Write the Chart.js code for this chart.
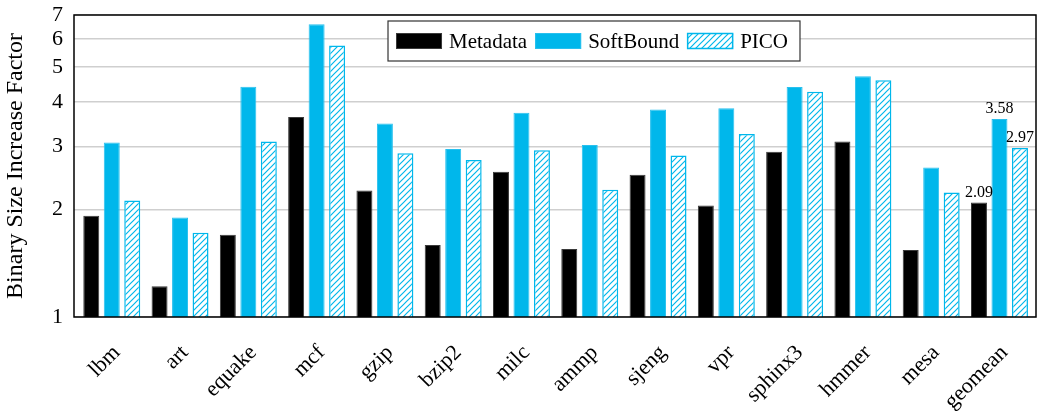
<!DOCTYPE html>
<html>
<head>
<meta charset="utf-8">
<script src="https://cdn.jsdelivr.net/npm/chart.js@4/dist/chart.umd.min.js"></script>
<style>
  html, body { margin: 0; padding: 0; background: #ffffff; }
  #wrap { width: 1037px; height: 416px; }
</style>
</head>
<body>
<div id="wrap"><canvas id="chart" width="1037" height="416"></canvas></div>
<script>
// Benchmarks on the x axis
const categories = ['lbm', 'art', 'equake', 'mcf', 'gzip', 'bzip2', 'milc', 'ammp',
                    'sjeng', 'vpr', 'sphinx3', 'hmmer', 'mesa', 'geomean'];

// Binary size increase factor per benchmark
const metadata  = [1.92, 1.22, 1.70, 3.63, 2.26, 1.59, 2.55, 1.55, 2.50, 2.05, 2.90, 3.10, 1.54, 2.09];
const softBound = [3.08, 1.90, 4.41, 6.60, 3.48, 2.95, 3.73, 3.03, 3.81, 3.84, 4.40, 4.72, 2.62, 3.58];
const pico      = [2.12, 1.72, 3.10, 5.75, 2.87, 2.75, 2.93, 2.27, 2.83, 3.25, 4.27, 4.60, 2.23, 2.97];

// Y axis tick values (log scale)
const yTicks = [1, 2, 3, 4, 5, 6, 7];

// Categories whose bars carry a value label
const labelledCategories = ['geomean'];

const FONT = "'Liberation Serif', 'DejaVu Serif', serif";
const CYAN = '#00b7eb';

// Diagonal hatch used for the PICO bars
function makeHatch(color) {
  const size = 6;
  const c = document.createElement('canvas');
  c.width = size; c.height = size;
  const g = c.getContext('2d');
  g.fillStyle = '#ffffff';
  g.fillRect(0, 0, size, size);
  g.strokeStyle = color;
  g.lineWidth = 1.2;
  g.beginPath();
  g.moveTo(-1, size + 1); g.lineTo(size + 1, -1);
  g.moveTo(-1, 1); g.lineTo(1, -1);
  g.moveTo(size - 1, size + 1); g.lineTo(size + 1, size - 1);
  g.stroke();
  return g.createPattern(c, 'repeat');
}
const hatch = makeHatch(CYAN);

const toPoints = vals => vals.map((v, i) => ({ x: i, y: v }));

// Frame around the plot area
const framePlugin = {
  id: 'frame',
  afterDatasetsDraw(chart) {
    const { ctx, chartArea: a } = chart;
    ctx.save();
    ctx.strokeStyle = '#000000';
    ctx.lineWidth = 1.5;
    ctx.strokeRect(a.left, a.top, a.right - a.left, a.bottom - a.top);
    ctx.restore();
  }
};

// Value labels above selected bars
const valueLabelPlugin = {
  id: 'valueLabels',
  afterDatasetsDraw(chart) {
    const { ctx } = chart;
    ctx.save();
    ctx.font = '16px ' + FONT;
    ctx.fillStyle = '#000000';
    ctx.textAlign = 'center';
    ctx.textBaseline = 'middle';
    chart.data.datasets.forEach((ds, di) => {
      const meta = chart.getDatasetMeta(di);
      ds.data.forEach((pt, i) => {
        if (!labelledCategories.includes(categories[i])) return;
        const el = meta.data[i];
        ctx.fillText(pt.y.toFixed(2), el.x, el.y - 10);
      });
    });
    ctx.restore();
  }
};

// Boxed legend inside the plot
const boxLegendPlugin = {
  id: 'boxLegend',
  afterDraw(chart) {
    const { ctx, chartArea: a } = chart;
    const sw = 46, sh = 16, gapText = 7, gapItem = 8, padL = 8, padR = 12;
    ctx.save();
    ctx.font = '21px ' + FONT;
    const items = chart.data.datasets.map(ds => ({ ds, w: ctx.measureText(ds.label).width }));
    let total = padL + padR;
    items.forEach((it, k) => { total += sw + gapText + it.w + (k < items.length - 1 ? gapItem : 0); });
    const cx = 594, top = a.top + 6, h = 40;
    const left = cx - total / 2;
    ctx.fillStyle = '#ffffff';
    ctx.fillRect(left, top, total, h);
    ctx.strokeStyle = '#333333';
    ctx.lineWidth = 1.2;
    ctx.strokeRect(left, top, total, h);
    let x = left + padL;
    const midY = top + h / 2;
    items.forEach((it, k) => {
      const ds = it.ds;
      ctx.fillStyle = ds.backgroundColor;
      ctx.fillRect(x, midY - sh / 2, sw, sh);
      ctx.strokeStyle = ds.borderColor;
      ctx.lineWidth = ds.borderWidth || 1;
      ctx.strokeRect(x + 0.5, midY - sh / 2 + 0.5, sw - 1, sh - 1);
      x += sw + gapText;
      ctx.fillStyle = '#000000';
      ctx.textAlign = 'left';
      ctx.textBaseline = 'middle';
      ctx.fillText(ds.label, x, midY + 1);
      x += it.w + gapItem;
    });
    ctx.restore();
  }
};

new Chart(document.getElementById('chart'), {
  type: 'bar',
  data: {
    datasets: [
      { label: 'Metadata', data: toPoints(metadata), backgroundColor: '#000000',
        borderColor: '#3a3a3a', borderWidth: 1 },
      { label: 'SoftBound', data: toPoints(softBound), backgroundColor: CYAN,
        borderColor: '#28c0ee', borderWidth: 1 },
      { label: 'PICO', data: toPoints(pico), backgroundColor: hatch,
        borderColor: CYAN, borderWidth: 1.5 }
    ]
  },
  options: {
    responsive: false,
    animation: false,
    devicePixelRatio: 1,
    layout: { padding: { top: 15, right: 1, left: 0, bottom: 0 } },
    datasets: { bar: { categoryPercentage: 0.9, barPercentage: 0.78 } },
    plugins: { legend: { display: false }, tooltip: { enabled: false } },
    scales: {
      x: {
        type: 'linear',
        offset: false,
        min: -0.553,
        max: 13.535,
        grid: { display: false },
        border: { display: false },
        afterBuildTicks(scale) { scale.ticks = categories.map((_, i) => ({ value: i })); },
        afterFit(scale) { scale.height = 99; },
        ticks: {
          autoSkip: false,
          minRotation: 45,
          maxRotation: 45,
          padding: 15,
          labelOffset: 5,
          color: '#000000',
          font: { family: FONT, size: 22 },
          callback: v => categories[v]
        }
      },
      y: {
        type: 'logarithmic',
        min: 1,
        max: 7,
        afterBuildTicks(scale) { scale.ticks = yTicks.map(v => ({ value: v })); },
        afterFit(scale) {
          scale.width = 74;
          scale.paddingTop = 0;
          scale.paddingBottom = 0;
        },
        grid: { color: '#cfcfcf', lineWidth: 1.5, drawTicks: false },
        border: { display: false },
        ticks: {
          padding: 11,
          color: '#000000',
          font: { family: FONT, size: 22 },
          callback: v => String(v)
        },
        title: {
          display: true,
          text: 'Binary Size Increase Factor',
          color: '#000000',
          font: { family: FONT, size: 24 },
          padding: { top: 1, bottom: 0 }
        }
      }
    }
  },
  plugins: [framePlugin, valueLabelPlugin, boxLegendPlugin]
});
</script>
</body>
</html>
